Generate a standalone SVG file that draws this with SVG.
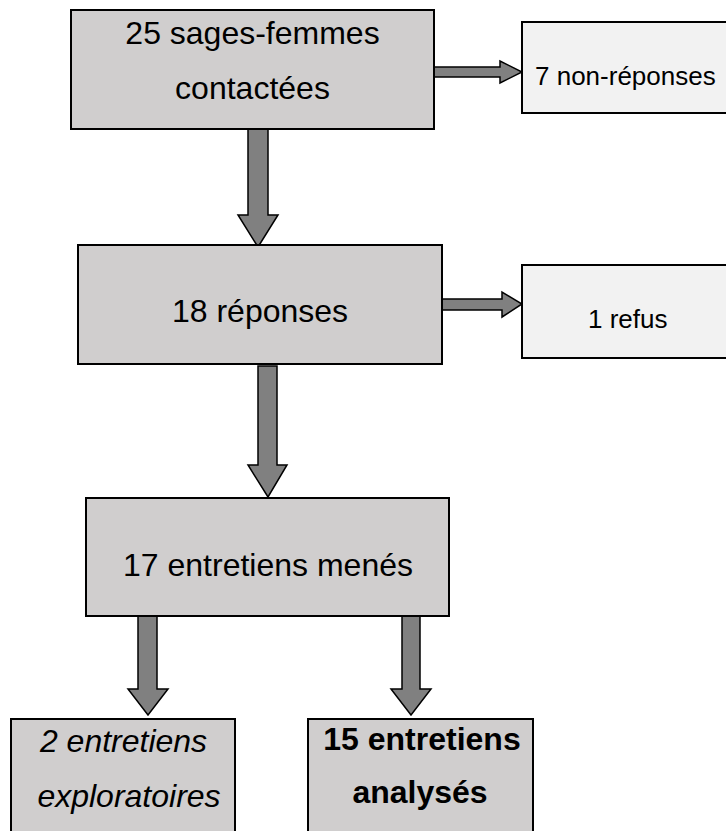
<svg xmlns="http://www.w3.org/2000/svg" width="726" height="831" viewBox="0 0 726 831">
<style>
  .main { fill: #d0cece; stroke: #000; stroke-width: 2; }
  .side { fill: #f2f2f2; stroke: #000; stroke-width: 2; }
  .arrow { fill: #808080; stroke: #000; stroke-width: 1.5; stroke-linejoin: miter; }
  text { font-family: "Liberation Sans", Arial, sans-serif; fill: #000; }
  .big { font-size: 32px; text-anchor: middle; }
  .small { font-size: 26px; }
</style>
<rect width="726" height="831" fill="#ffffff"/>
<g id="connectors">
  <polygon class="arrow" points="434,67 500,67 500,61 522,72 500,83 500,77 434,77"/>
  <polygon class="arrow" points="442,299 502,299 502,292 522,304 502,317 502,310 442,310"/>
  <polygon class="arrow" points="248,129 268,129 268,215 278,215 258,247 238,215 248,215"/>
  <polygon class="arrow" points="258,366 277,366 277,465 287,465 268,497 248,465 258,465"/>
  <polygon class="arrow" points="138,616 157,616 157,689 168,689 148,715 128,689 138,689"/>
  <polygon class="arrow" points="402,616 420,616 420,689 431,689 411,715 391,689 402,689"/>
</g>
<g id="n1">
  <rect class="main" x="71" y="10" width="363" height="119"/>
  <text class="big" x="252.5" y="44">25 sages-femmes</text>
  <text class="big" x="252.5" y="99">contactées</text>
</g>
<g id="n2">
  <rect class="side" x="522" y="22" width="220" height="91"/>
  <text class="small" x="535" y="85">7 non-réponses</text>
</g>
<g id="n3">
  <rect class="main" x="78" y="245" width="364" height="119"/>
  <text class="big" x="260" y="322">18 réponses</text>
</g>
<g id="n4">
  <rect class="side" x="522" y="265" width="220" height="93"/>
  <text class="small" x="588" y="328">1 refus</text>
</g>
<g id="n5">
  <rect class="main" x="86" y="498" width="363" height="118"/>
  <text class="big" x="268" y="576">17 entretiens menés</text>
</g>
<g id="n6">
  <rect class="main" x="11" y="719" width="224" height="130"/>
  <text class="big" x="123.5" y="752" font-style="italic">2 entretiens</text>
  <text class="big" x="129" y="807" font-style="italic">exploratoires</text>
</g>
<g id="n7">
  <rect class="main" x="308" y="719" width="225" height="130"/>
  <text class="big" x="422" y="750" font-weight="bold">15 entretiens</text>
  <text class="big" x="420" y="803" font-weight="bold">analysés</text>
</g>
</svg>
